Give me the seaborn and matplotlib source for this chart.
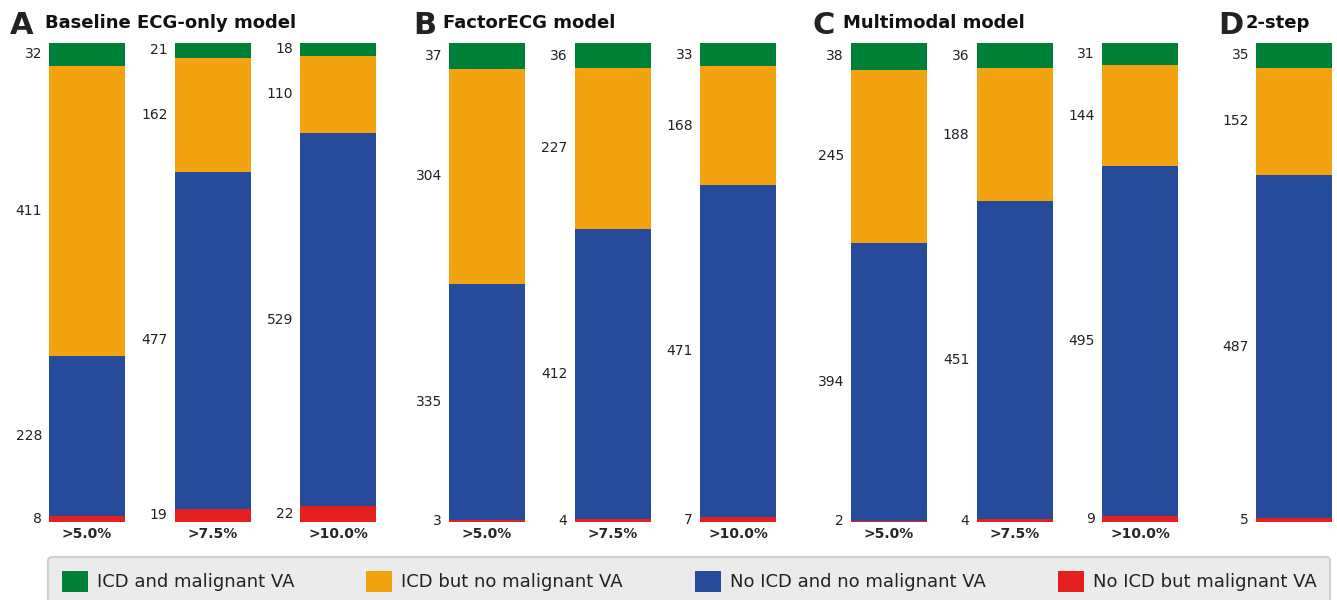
import matplotlib.pyplot as plt
import pandas as pd
import seaborn as sns
from matplotlib.patches import Patch

# categories, top to bottom in each bar
outcomes = [
    'ICD and malignant VA',
    'ICD but no malignant VA',
    'No ICD and no malignant VA',
    'No ICD but malignant VA',
]
colors = ['#008037', '#f3a310', '#264b9a', '#e3201f']

thresholds = ['>5.0%', '>7.5%', '>10.0%']

# panel A: baseline ECG-only model
a_icd_va = [32, 21, 18]
a_icd_no_va = [411, 162, 110]
a_no_icd_no_va = [228, 477, 529]
a_no_icd_va = [8, 19, 22]

# panel B: FactorECG model
b_icd_va = [37, 36, 33]
b_icd_no_va = [304, 227, 168]
b_no_icd_no_va = [335, 412, 471]
b_no_icd_va = [3, 4, 7]

# panel C: multimodal model
c_icd_va = [38, 36, 31]
c_icd_no_va = [245, 188, 144]
c_no_icd_no_va = [394, 451, 495]
c_no_icd_va = [2, 4, 9]

# panel D: 2-step
d_icd_va = [35]
d_icd_no_va = [152]
d_no_icd_no_va = [487]
d_no_icd_va = [5]

total = 679

panels = [
    ('A', 'Baseline ECG-only model', thresholds,
     [a_icd_va, a_icd_no_va, a_no_icd_no_va, a_no_icd_va]),
    ('B', 'FactorECG model', thresholds,
     [b_icd_va, b_icd_no_va, b_no_icd_no_va, b_no_icd_va]),
    ('C', 'Multimodal model', thresholds,
     [c_icd_va, c_icd_no_va, c_no_icd_no_va, c_no_icd_va]),
    ('D', '2-step', ['2-step'],
     [d_icd_va, d_icd_no_va, d_no_icd_no_va, d_no_icd_va]),
]

sns.set_theme(style='white')
plt.rcParams['font.family'] = ['DejaVu Sans']
plt.rcParams['text.color'] = '#222222'

W, H = 1337, 600
fig = plt.figure(figsize=(W / 100, H / 100), dpi=100)

step = 125.5       # px between bar centres
shrink = 76 / step
first_centre = [87, 487, 889, 1294]
letter_x = [10, 413, 813, 1218]
title_x = [45, 443, 843, 1246]
bar_top, bar_bot = 43, 522

for k, (letter, title, cats, series) in enumerate(panels):
    n = len(cats)
    left = first_centre[k] - step / 2
    width = min(n * step, W - left)
    ax = fig.add_axes([left / W, 1 - bar_bot / H, width / W,
                       (bar_bot - bar_top) / H])

    rows = []
    for name, vals in zip(outcomes, series):
        for cat, v in zip(cats, vals):
            rows.append({'threshold': cat, 'outcome': name, 'count': v})
    df = pd.DataFrame(rows)

    sns.histplot(
        data=df, x='threshold', weights='count', hue='outcome',
        hue_order=outcomes, palette=colors, multiple='stack',
        discrete=True, shrink=shrink, alpha=1, linewidth=0,
        legend=False, ax=ax,
    )
    ax.set_xlim(-0.5, -0.5 + width / step)
    ax.set_ylim(0, total)
    ax.set_yticks([])
    ax.set_xlabel('')
    ax.set_ylabel('')
    ax.set_xticks(range(n))
    ax.set_xticklabels(cats, fontweight='bold', fontsize=10)
    ax.tick_params(axis='x', length=0, pad=3.5)
    if letter == 'D':
        ax.tick_params(axis='x', labelbottom=False)
    sns.despine(ax=ax, left=True, bottom=True)

    # value labels at segment middles, left of each bar
    for i in range(n):
        top = total
        for vals in series:
            v = vals[i]
            mid = top - v / 2
            ax.annotate(str(v), (i - shrink / 2, mid), xytext=(-5, 0),
                        textcoords='offset points', ha='right', va='center',
                        fontsize=10, color='#222222')
            top -= v

    fig.text(letter_x[k] / W, 1 - 34 / H, letter, fontsize=22,
             fontweight='bold', va='baseline', color='#222222')
    fig.text(title_x[k] / W, 1 - 28 / H, title, fontsize=13,
             fontweight='bold', va='baseline', color='#111111')

handles = [Patch(facecolor=c, edgecolor='none') for c in colors]
leg = fig.legend(
    handles, outcomes, loc='upper left', ncol=4, mode='expand',
    bbox_to_anchor=(48 / W, 0, 1282 / W, 1 - 557 / H), borderaxespad=0,
    fontsize=13, frameon=True, fancybox=True, framealpha=1,
    facecolor='#ebebeb', edgecolor='#d0d0d0',
    handlelength=1.45, handleheight=1.45, handletextpad=0.5,
    columnspacing=3.5, borderpad=0.75,
)
leg.get_frame().set_linewidth(1.5)

fig.savefig('out.png', dpi=100)
